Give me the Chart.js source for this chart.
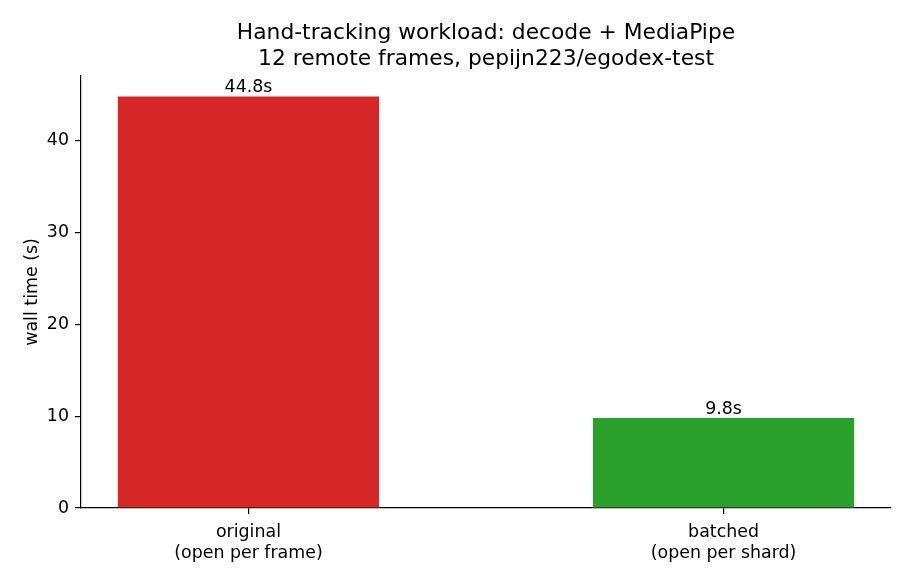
<!DOCTYPE html>
<html><head><meta charset="utf-8">
<script src="https://cdn.jsdelivr.net/npm/chart.js@4"></script>
<style>html,body{margin:0;padding:0;background:#fff}#wrap{width:910px;height:585px}</style>
</head><body><div id="wrap"><canvas id="c" width="910" height="585"></canvas></div>
<script>
const categories = [["original", "(open per frame)"], ["batched", "(open per shard)"]];
const categoryPositions = [0, 1];
const wallTimes = [44.8, 9.8];
const valueLabels = ["44.8s", "9.8s"];
const barColors = ["#d62728", "#2ca02c"];
const yTicks = [0, 10, 20, 30, 40];
const titleLines = ["Hand-tracking workload: decode + MediaPipe", "12 remote frames, pepijn223/egodex-test"];
const yAxisTitle = "wall time (s)";

const FONT = "'DejaVu Sans', sans-serif";
const tickFont = { family: FONT, size: 17.4, lineHeight: 1.2 };

const titlePlugin = {
  id: 'mplTitle',
  afterDraw(chart) {
    const ctx = chart.ctx, a = chart.chartArea;
    ctx.save();
    ctx.fillStyle = '#000';
    ctx.font = "21.8px " + FONT;
    ctx.textAlign = 'center';
    ctx.textBaseline = 'alphabetic';
    const cx = (a.left + a.right) / 2;
    ctx.fillText(titleLines[0], cx, 38.5);
    ctx.fillText(titleLines[1], cx, 65);
    ctx.restore();
  }
};

const valueLabelPlugin = {
  id: 'valueLabels',
  afterDatasetsDraw(chart) {
    const ctx = chart.ctx;
    const meta = chart.getDatasetMeta(0);
    ctx.save();
    ctx.fillStyle = '#000';
    ctx.font = "17.4px " + FONT;
    ctx.textAlign = 'center';
    ctx.textBaseline = 'alphabetic';
    meta.data.forEach((bar, i) => {
      ctx.fillText(valueLabels[i], bar.x, bar.y - 4.5);
    });
    ctx.restore();
  }
};

new Chart(document.getElementById('c'), {
  type: 'bar',
  data: {
    datasets: [{
      data: categoryPositions.map((x, i) => ({ x: x, y: wallTimes[i] })),
      backgroundColor: barColors,
      borderWidth: 0,
      categoryPercentage: 1,
      barPercentage: 0.55
    }]
  },
  options: {
    responsive: false,
    animation: false,
    devicePixelRatio: 1,
    layout: { padding: { left: 0, right: 19, top: 76, bottom: 0 } },
    plugins: { legend: { display: false }, tooltip: { enabled: false }, title: { display: false } },
    scales: {
      x: {
        type: 'linear',
        offset: false,
        min: -0.3525,
        max: 1.3525,
        afterBuildTicks(scale) { scale.ticks = categoryPositions.map(v => ({ value: v })); },
        afterFit(scale) { scale.height = 77; },
        grid: { offset: false, drawOnChartArea: false, drawTicks: true, tickLength: 6, color: '#000', lineWidth: 1.2 },
        border: { display: true, color: '#000', width: 1.2 },
        ticks: {
          color: '#000', font: tickFont, padding: 8, maxRotation: 0, autoSkip: false,
          callback(v) { const i = categoryPositions.indexOf(v); return i >= 0 ? categories[i] : ''; }
        }
      },
      y: {
        min: 0,
        max: 47.04,
        afterBuildTicks(scale) { scale.ticks = yTicks.map(v => ({ value: v })); },
        afterFit(scale) { scale.width = 81; },
        grid: { drawOnChartArea: false, drawTicks: true, tickLength: 6, color: '#000', lineWidth: 1.2 },
        border: { display: true, color: '#000', width: 1.2 },
        ticks: { color: '#000', font: tickFont, padding: 6, callback: v => String(v) },
        title: { display: true, text: yAxisTitle, color: '#000', font: tickFont, padding: { top: 22, bottom: 0 } }
      }
    }
  },
  plugins: [titlePlugin, valueLabelPlugin]
});
</script>
</body></html>
